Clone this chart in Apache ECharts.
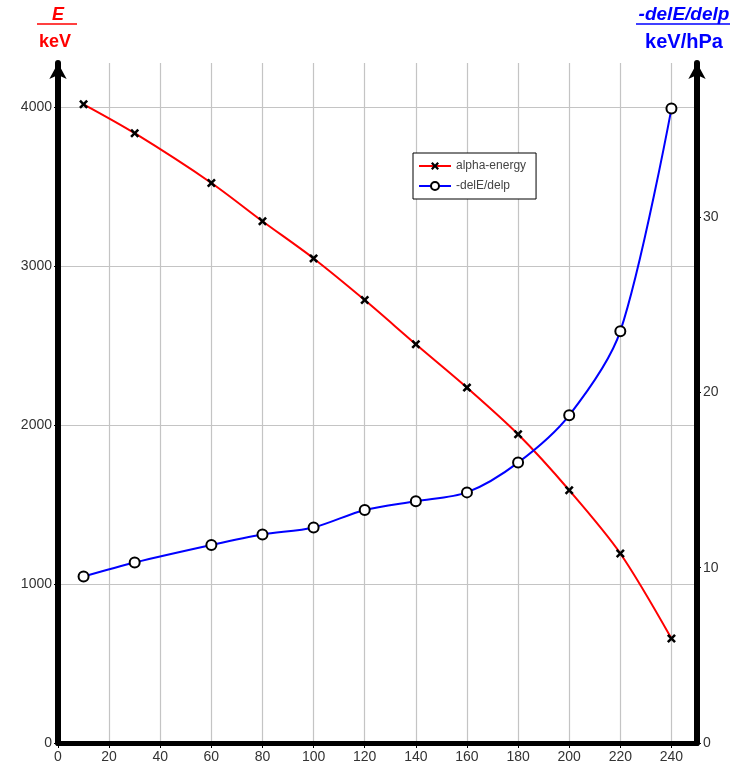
<!DOCTYPE html>
<html>
<head>
<meta charset="utf-8">
<style>
  html, body { margin: 0; padding: 0; background: #fff; }
  #chart { width: 734px; height: 778px; }
</style>
<script src="https://cdn.jsdelivr.net/npm/echarts/dist/echarts.min.js"></script>
</head>
<body>
<div id="chart"></div>
<script>
// values
const xValues = [10, 30, 60, 80, 100, 120, 140, 160, 180, 200, 220, 240];
const energy = [4020, 3838, 3525, 3284, 3050, 2788, 2510, 2237, 1943, 1591, 1193, 658];
const dEdp = [9.5, 10.3, 11.3, 11.9, 12.3, 13.3, 13.8, 14.3, 16.0, 18.7, 23.5, 36.2];
const seriesNames = ['alpha-energy', '-delE/delp'];

var chartDom = document.getElementById('chart');
var myChart = echarts.init(chartDom);

const font = 'Liberation Sans';
const crossPath = 'path://M0,2L2,0L5,3L8,0L10,2L7,5L10,8L8,10L5,7L2,10L0,8L3,5Z';

const axisLine = {
  show: true,
  lineStyle: { color: '#000', width: 6 }
};

const gridLine = { lineStyle: { color: '#c4c4c4', width: 1.2 } };

// plain numbers, no thousands separator
const plain = (v) => String(v);

var option = {
  animation: false,
  backgroundColor: '#fff',
  grid: {
    left: 58,
    right: 37,
    top: 63,
    bottom: 35,
    containLabel: false,
    outerBoundsMode: 'none'
  },
  legend: {
    orient: 'vertical',
    left: 413,
    top: 153,
    padding: [7, 10, 7, 5],
    itemGap: 8,
    itemWidth: 32,
    itemHeight: 10,
    borderColor: '#000',
    borderWidth: 1,
    backgroundColor: '#fff',
    textStyle: { fontFamily: font, fontSize: 12, color: '#444' },
    data: seriesNames
  },
  xAxis: {
    type: 'value',
    min: 0,
    max: 250,
    interval: 20,
    axisLine: { show: true, onZero: false, lineStyle: { color: '#000', width: 5 } },
    axisTick: { show: true, length: 5, lineStyle: { color: '#000', width: 1 } },
    axisLabel: { fontFamily: font, fontSize: 14, color: '#333', margin: 7, showMaxLabel: false, formatter: plain },
    splitLine: { show: true, showMinLine: false, showMaxLine: false, lineStyle: gridLine.lineStyle }
  },
  yAxis: [
    {
      type: 'value',
      min: 0,
      max: 4280,
      interval: 1000,
      position: 'left',
      axisLine: Object.assign({ symbol: ['none', 'arrow'], symbolSize: [13, 16] }, axisLine),
      axisTick: { show: true, length: 4, lineStyle: { color: '#000', width: 1 } },
      axisLabel: { fontFamily: font, fontSize: 14, color: '#333', margin: 6, showMaxLabel: false, formatter: plain },
      splitLine: { show: true, showMinLine: false, showMaxLine: false, lineStyle: gridLine.lineStyle }
    },
    {
      type: 'value',
      min: 0,
      max: 38.8,
      interval: 10,
      position: 'right',
      axisLine: Object.assign({ symbol: ['none', 'arrow'], symbolSize: [13, 16] }, axisLine),
      axisTick: { show: true, length: 4, lineStyle: { color: '#000', width: 1 } },
      axisLabel: { fontFamily: font, fontSize: 14, color: '#333', margin: 6, showMaxLabel: false, formatter: plain },
      splitLine: { show: false }
    }
  ],
  series: [
    {
      name: seriesNames[0],
      type: 'line',
      yAxisIndex: 0,
      smooth: 0.3,
      symbol: crossPath,
      symbolSize: 9,
      itemStyle: { color: '#000' },
      lineStyle: { color: '#ff0000', width: 2 },
      data: xValues.map((x, i) => [x, energy[i]]),
      z: 3
    },
    {
      name: seriesNames[1],
      type: 'line',
      yAxisIndex: 1,
      smooth: 0.3,
      symbol: 'emptyCircle',
      symbolSize: 10,
      itemStyle: { color: '#000', borderColor: '#000', borderWidth: 2 },
      lineStyle: { color: '#0000ff', width: 2 },
      data: xValues.map((x, i) => [x, dEdp[i]]),
      z: 3
    }
  ],
  graphic: [
    {
      type: 'text', x: 58, y: 15,
      style: { text: 'E', font: 'italic bold 18px "Liberation Sans"', fill: '#ff0000', align: 'center', verticalAlign: 'middle' }
    },
    {
      type: 'line',
      shape: { x1: 37, y1: 24, x2: 77, y2: 24 },
      style: { stroke: '#ff0000', lineWidth: 1.5 }
    },
    {
      type: 'text', x: 55, y: 42,
      style: { text: 'keV', font: 'bold 18px "Liberation Sans"', fill: '#ff0000', align: 'center', verticalAlign: 'middle' }
    },
    {
      type: 'text', x: 684, y: 15,
      style: { text: '-delE/delp', font: 'italic bold 19px "Liberation Sans"', fill: '#0000ff', align: 'center', verticalAlign: 'middle' }
    },
    {
      type: 'line',
      shape: { x1: 636, y1: 24, x2: 730, y2: 24 },
      style: { stroke: '#0000ff', lineWidth: 1.5 }
    },
    {
      type: 'text', x: 684, y: 42,
      style: { text: 'keV/hPa', font: 'bold 20px "Liberation Sans"', fill: '#0000ff', align: 'center', verticalAlign: 'middle' }
    }
  ]
};

option && myChart.setOption(option);
</script>
</body>
</html>
